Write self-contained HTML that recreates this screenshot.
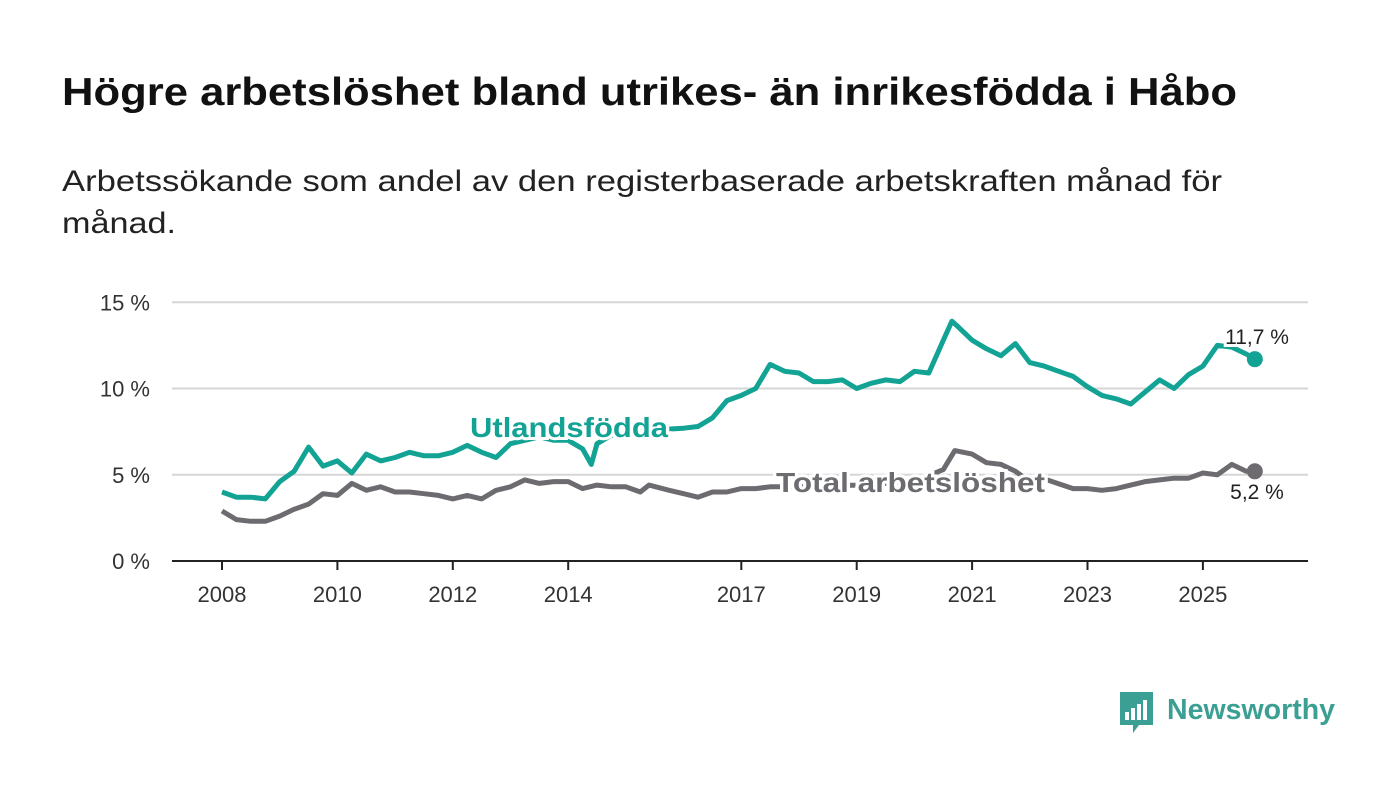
<!DOCTYPE html>
<html><head><meta charset="utf-8"><style>
body{margin:0;background:#fff;width:1400px;height:794px;overflow:hidden;font-family:"Liberation Sans",sans-serif}
</style></head><body>
<svg width="1400" height="794" style="position:absolute;left:0;top:0">
<text x="62" y="105" font-size="39" font-weight="bold" fill="#111" textLength="1175" lengthAdjust="spacingAndGlyphs">Högre arbetslöshet bland utrikes- än inrikesfödda i Håbo</text>
<text x="62" y="191" font-size="30" fill="#222" textLength="1160" lengthAdjust="spacingAndGlyphs">Arbetssökande som andel av den registerbaserade arbetskraften månad för</text>
<text x="62" y="233" font-size="30" fill="#222" textLength="114" lengthAdjust="spacingAndGlyphs">månad.</text>
<g id="grid"></g><g id="lines"></g><g id="labels"></g>
<g>
<path d="M1120 692h33v33h-14l-6 8v-8h-13z" fill="#3c9f93"/>
<rect x="1125" y="712" width="4" height="8" fill="#fff"/><rect x="1131" y="708" width="4" height="12" fill="#fff"/><rect x="1137" y="704" width="4" height="16" fill="#fff"/><rect x="1143" y="700" width="4" height="20" fill="#fff"/>
<text x="1167" y="719" font-size="29" fill="#3c9f93" font-weight="bold" textLength="168" lengthAdjust="spacingAndGlyphs">Newsworthy</text>
</g>
</svg>
<script>
const yTicks=[0,5,10,15];
const xTicks=[2008,2010,2012,2014,2017,2019,2021,2023,2025];
const utlT=[2008,2008.25,2008.5,2008.75,2009,2009.25,2009.5,2009.75,2010,2010.25,2010.5,2010.75,2011,2011.25,2011.5,2011.75,2012,2012.25,2012.5,2012.75,2013,2013.25,2013.5,2013.75,2014,2014.25,2014.4,2014.5,2014.75,2015,2015.5,2016,2016.25,2016.5,2016.75,2017,2017.25,2017.5,2017.75,2018,2018.25,2018.5,2018.75,2019,2019.25,2019.5,2019.75,2020,2020.25,2020.5,2020.65,2020.75,2021,2021.25,2021.5,2021.75,2022,2022.25,2022.5,2022.75,2023,2023.25,2023.5,2023.75,2024,2024.25,2024.5,2024.75,2025,2025.25,2025.5,2025.75,2025.9];
const utlV=[4.0,3.7,3.7,3.6,4.6,5.2,6.6,5.5,5.8,5.1,6.2,5.8,6.0,6.3,6.1,6.1,6.3,6.7,6.3,6.0,6.8,7.0,7.2,7.0,7.0,6.5,5.6,6.8,7.3,7.4,7.6,7.7,7.8,8.3,9.3,9.6,10.0,11.4,11.0,10.9,10.4,10.4,10.5,10.0,10.3,10.5,10.4,11.0,10.9,12.8,13.9,13.6,12.8,12.3,11.9,12.6,11.5,11.3,11.0,10.7,10.1,9.6,9.4,9.1,9.8,10.5,10.0,10.8,11.3,12.5,12.4,12.0,11.7];
const totT=[2008,2008.25,2008.5,2008.75,2009,2009.25,2009.5,2009.75,2010,2010.25,2010.5,2010.75,2011,2011.25,2011.5,2011.75,2012,2012.25,2012.5,2012.75,2013,2013.25,2013.5,2013.75,2014,2014.25,2014.5,2014.75,2015,2015.25,2015.4,2015.75,2016,2016.25,2016.5,2016.75,2017,2017.25,2017.5,2018,2019,2020,2020.5,2020.7,2021,2021.25,2021.5,2021.75,2022,2022.3,2022.75,2023,2023.25,2023.5,2023.75,2024,2024.25,2024.5,2024.75,2025,2025.25,2025.5,2025.75,2025.9];
const totV=[2.9,2.4,2.3,2.3,2.6,3.0,3.3,3.9,3.8,4.5,4.1,4.3,4.0,4.0,3.9,3.8,3.6,3.8,3.6,4.1,4.3,4.7,4.5,4.6,4.6,4.2,4.4,4.3,4.3,4.0,4.4,4.1,3.9,3.7,4.0,4.0,4.2,4.2,4.3,4.3,4.4,4.6,5.3,6.4,6.2,5.7,5.6,5.2,4.6,4.7,4.2,4.2,4.1,4.2,4.4,4.6,4.7,4.8,4.8,5.1,5.0,5.6,5.2,5.2];
const NS="http://www.w3.org/2000/svg";
const X=t=>222+(t-2008)*57.7;
const Y=v=>561-v*17.25;
function mk(tag,attrs,parent,txt){const e=document.createElementNS(NS,tag);for(const k in attrs)e.setAttribute(k,attrs[k]);if(txt!==undefined)e.textContent=txt;parent.appendChild(e);return e;}
const grid=document.getElementById('grid'),lines=document.getElementById('lines'),labels=document.getElementById('labels');
yTicks.forEach(v=>{
  if(v>0){const l=mk('line',{x1:172,x2:1308,y1:Y(v),y2:Y(v),stroke:'#d6d6d6','stroke-width':2},grid);
  
  }
  const t=mk('text',{x:150,y:Y(v)+8,'text-anchor':'end','font-size':22,fill:'#333'},grid,v+' %');
  
  
});
const ax=mk('line',{x1:172,x2:1308,y1:561,y2:561,stroke:'#222','stroke-width':2},grid);


xTicks.forEach(y=>{
  mk('line',{x1:X(y),x2:X(y),y1:561,y2:570,stroke:'#222','stroke-width':2},grid);
  const t=mk('text',{x:X(y),y:602,'text-anchor':'middle','font-size':22,fill:'#333'},grid,String(y));
  
  
});
function series(T,V,col,name){
  const d=T.map((t,i)=>(i?'L':'M')+X(t).toFixed(1)+' '+Y(V[i]).toFixed(1)).join(' ');
  const p=mk('path',{d:d,fill:'none',stroke:col,'stroke-width':5,'stroke-linejoin':'round'},lines);
  
  
  const c=mk('circle',{cx:X(T[T.length-1]),cy:Y(V[V.length-1]),r:8,fill:col},lines);
  
  
}
series(totT,totV,'#6d6b70','total');
series(utlT,utlV,'#12a394','utlandsfodda');
function lab(x,y,txt,col,size,bold,name,anchor,len){
  const a={x:x,y:y,'font-size':size,'font-weight':bold?'bold':'normal',fill:col,stroke:'#fff','stroke-width':6,'paint-order':'stroke','text-anchor':anchor||'start'};
  if(len){a.textLength=len;a.lengthAdjust='spacingAndGlyphs';}
  const t=mk('text',a,labels,txt);
  
  
}
lab(470,437,'Utlandsfödda','#12a394',28,true,'utlandsfodda-label','start',198);
lab(776,492,'Total arbetslöshet','#6d6b70',28,true,'total-label','start',269);
lab(1257,344,(utlV[utlV.length-1]+'').replace('.',',')+' %','#222',21,false,'utlandsfodda-value-label','middle');
lab(1257,499,(totV[totV.length-1]+'').replace('.',',')+' %','#222',21,false,'total-value-label','middle');
</script>
</body></html>
